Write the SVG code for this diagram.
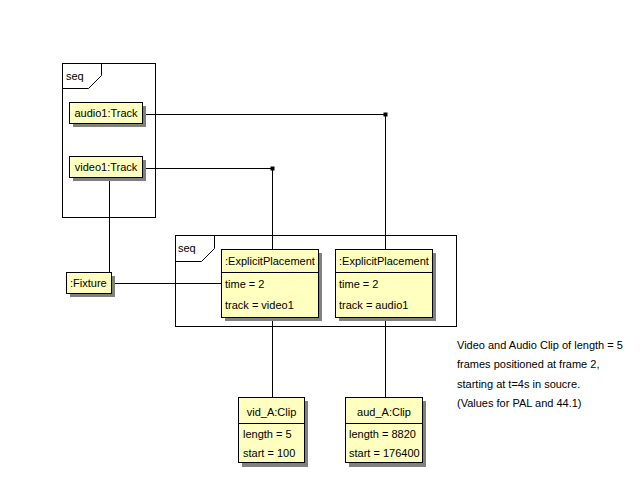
<svg xmlns="http://www.w3.org/2000/svg" width="643" height="481" viewBox="0 0 643 481">
<style>
text{font-family:"Liberation Sans",Arial,sans-serif;font-size:11px;fill:#000}
.frame{fill:none;stroke:#000;stroke-width:1}
.box{fill:#ffffc0;stroke:#000;stroke-width:1}
.sh{fill:#808080}
.ln{fill:none;stroke:#000;stroke-width:1}
.c{text-anchor:middle}
</style>
<rect width="643" height="481" fill="#fff"/>
<g id="seq1">
<rect class="frame" x="62.5" y="63.5" width="93" height="154"/>
<path class="frame" d="M62.5,88.5 H88.5 L101.5,75.5 V63.5"/>
<text x="66" y="80">seq</text>
</g>
<g id="seq2">
<rect class="frame" x="175.5" y="235.5" width="281" height="91"/>
<path class="frame" d="M175.5,261.5 H201.5 L214.5,248.5 V235.5"/>
<text x="178" y="252">seq</text>
</g>
<g id="connectors">
<path class="ln" d="M142,114.5 H385.5 V249"/>
<path class="ln" d="M142,168.5 H272.5 V249"/>
<rect x="383.5" y="112.5" width="4" height="4" fill="#000"/>
<rect x="270.5" y="166.5" width="4" height="4" fill="#000"/>
<path class="ln" d="M109.5,178 V272"/>
<path class="ln" d="M111,283.5 H221"/>
<path class="ln" d="M272.5,317 V397"/>
<path class="ln" d="M385.5,317 V397"/>
</g>
<g id="audio1">
<rect class="sh" x="73" y="106" width="73" height="21"/>
<rect class="box" x="69.5" y="102.5" width="73" height="21"/>
<text class="c" x="106" y="117">audio1:Track</text>
</g>
<g id="video1">
<rect class="sh" x="73" y="160" width="73" height="21"/>
<rect class="box" x="69.5" y="156.5" width="73" height="21"/>
<text class="c" x="106" y="171">video1:Track</text>
</g>
<g id="fixture">
<rect class="sh" x="70" y="276" width="45" height="21"/>
<rect class="box" x="66.5" y="272.5" width="45" height="21"/>
<text x="70" y="287">:Fixture</text>
</g>
<g id="ep1">
<rect class="sh" x="225" y="253" width="97" height="68"/>
<rect class="box" x="221.5" y="249.5" width="97" height="68"/>
<line class="ln" x1="221.5" y1="272.5" x2="318.5" y2="272.5"/>
<text x="225" y="265">:ExplicitPlacement</text>
<text x="225" y="288">time = 2</text>
<text x="225" y="309">track = video1</text>
</g>
<g id="ep2">
<rect class="sh" x="339" y="253" width="97" height="68"/>
<rect class="box" x="335.5" y="249.5" width="97" height="68"/>
<line class="ln" x1="335.5" y1="272.5" x2="432.5" y2="272.5"/>
<text x="339" y="265">:ExplicitPlacement</text>
<text x="339" y="288">time = 2</text>
<text x="339" y="309">track = audio1</text>
</g>
<g id="vidA">
<rect class="sh" x="242" y="401" width="66" height="66"/>
<rect class="box" x="238.5" y="397.5" width="66" height="65"/>
<line class="ln" x1="238.5" y1="423.5" x2="304.5" y2="423.5"/>
<text class="c" x="271.5" y="416">vid_A:Clip</text>
<text x="243" y="438">length = 5</text>
<text x="243" y="457">start = 100</text>
</g>
<g id="audA">
<rect class="sh" x="349" y="401" width="77" height="66"/>
<rect class="box" x="345.5" y="397.5" width="77" height="65"/>
<line class="ln" x1="345.5" y1="423.5" x2="422.5" y2="423.5"/>
<text class="c" x="384" y="416">aud_A:Clip</text>
<text x="349" y="438">length = 8820</text>
<text x="349" y="457">start = 176400</text>
</g>
<g id="note">
<text x="457" y="349">Video and Audio Clip of length = 5</text>
<text x="457" y="368">frames positioned at frame 2,</text>
<text x="457" y="388">starting at t=4s in soucre.</text>
<text x="457" y="407">(Values for PAL and 44.1)</text>
</g>
</svg>
